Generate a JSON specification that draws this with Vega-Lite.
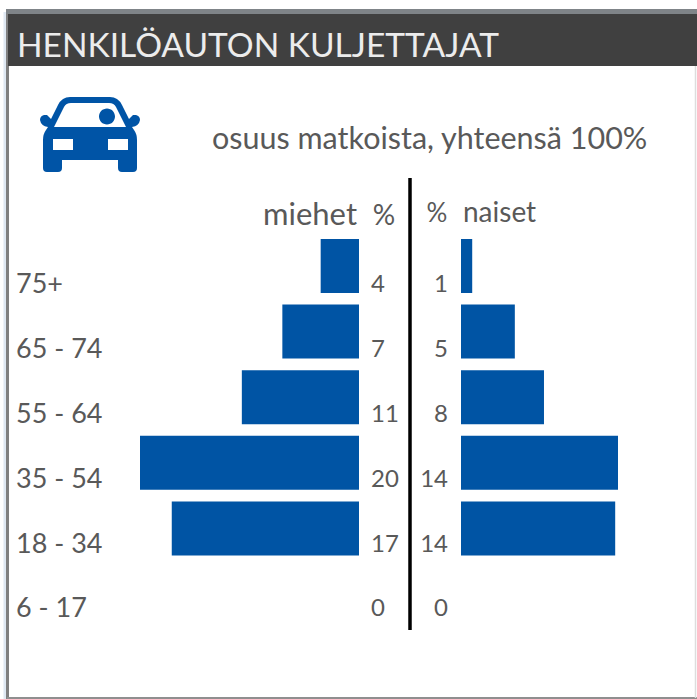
{"$schema":"https://vega.github.io/schema/vega-lite/v6.json","width":697,"height":699,"autosize":{"type":"fit","contains":"padding"},"padding":0,"background":"white","config":{"view":{"stroke":null},"font":"Lato"},
"datasets":{"shares":[
{"age":"75+","sex":"miehet","share":3.5,"label":4},{"age":"65 - 74","sex":"miehet","share":7,"label":7},{"age":"55 - 64","sex":"miehet","share":10.7,"label":11},{"age":"35 - 54","sex":"miehet","share":20,"label":20},{"age":"18 - 34","sex":"miehet","share":17.1,"label":17},{"age":"6 - 17","sex":"miehet","share":0,"label":0},
{"age":"75+","sex":"naiset","share":1,"label":1},{"age":"65 - 74","sex":"naiset","share":4.8,"label":5},{"age":"55 - 64","sex":"naiset","share":7.4,"label":8},{"age":"35 - 54","sex":"naiset","share":14,"label":14},{"age":"18 - 34","sex":"naiset","share":13.75,"label":14},{"age":"6 - 17","sex":"naiset","share":0,"label":0}]},
"data":{"name":"shares"},
"resolve":{"scale":{"x":"independent","y":"independent"}},
"layer":[
{"data":{"values":[{}]},"mark":{"type":"rule","color":"#dfe8f2","strokeWidth":3},"encoding":{"x":{"value":5},"y":{"value":12},"y2":{"value":699}}},
{"data":{"values":[{}]},"mark":{"type":"rule","color":"#808080","strokeWidth":3},"encoding":{"x":{"value":7.5},"y":{"value":10},"y2":{"value":699}}},
{"data":{"values":[{}]},"mark":{"type":"rule","color":"#8f8f8f","strokeWidth":2},"encoding":{"x":{"value":7},"x2":{"value":697},"y":{"value":698}}},
{"data":{"values":[{}]},"mark":{"type":"rule","color":"#dddddd","strokeWidth":1.5},"encoding":{"x":{"value":695.5},"y":{"value":66},"y2":{"value":698}}},
{"data":{"values":[{}]},"mark":{"type":"rect","color":"#7f8488"},"encoding":{"x":{"value":6},"x2":{"value":697},"y":{"value":9},"y2":{"value":14}}},
{"data":{"values":[{}]},"mark":{"type":"rect","color":"#404040"},"encoding":{"x":{"value":8},"x2":{"value":697},"y":{"value":14},"y2":{"value":66}}},
{"data":{"values":[{"t":"HENKILÖAUTON KULJETTAJAT"}]},"mark":{"type":"text","align":"left","baseline":"alphabetic","fontSize":33.5,"color":"#ececec"},"encoding":{"text":{"field":"t"},"x":{"value":17},"y":{"value":57}}},
{"data":{"values":[{}]},"mark":{"type":"point","filled":true,"opacity":1,"fill":"#0054a6","stroke":null,"size":4,"shape":"M -20,-37.5 L 20,-37.5 Q 28,-37.5 32,-29.5 L 39,-15.5 L 43,-19.5 L 46,-19.5 Q 50,-18.5 50,-14.5 Q 49,-8.5 42,-7.5 L 44,-4.5 Q 47,-0.5 47,5.5 L 47,33.5 Q 47,37.5 43,37.5 L 32,37.5 Q 28,37.5 28,33.5 L 28,25.5 L -28,25.5 L -28,33.5 Q -28,37.5 -32,37.5 L -43,37.5 Q -47,37.5 -47,33.5 L -47,5.5 Q -47,-0.5 -44,-4.5 L -42,-7.5 Q -49,-8.5 -50,-14.5 Q -50,-18.5 -46,-19.5 L -43,-19.5 L -39,-15.5 L -32,-29.5 Q -28,-37.5 -20,-37.5 Z M -19,-31.5 Q -24,-31.5 -26,-27.5 L -36,-7.5 L 36,-7.5 L 26,-27.5 Q 24,-31.5 19,-31.5 Z M 9,-18 A 8 8 0 0 1 25,-18 A 8 8 0 0 1 9,-18 Z M -37,4.5 L -37,15.5 L -17,15.5 L -17,4.5 Z M 18,4.5 L 18,15.5 L 38,15.5 L 38,4.5 Z"},"encoding":{"x":{"value":90},"y":{"value":134.5}}},
{"data":{"values":[{"t":"osuus matkoista, yhteensä 100%"}]},"mark":{"type":"text","align":"left","baseline":"alphabetic","fontSize":30.5,"color":"#595959"},"encoding":{"text":{"field":"t"},"x":{"value":212},"y":{"value":149}}},
{"data":{"values":[{"t":"miehet"}]},"mark":{"type":"text","align":"right","baseline":"alphabetic","fontSize":31,"color":"#595959"},"encoding":{"text":{"field":"t"},"x":{"value":357},"y":{"value":225}}},
{"data":{"values":[{"t":"%"}]},"mark":{"type":"text","align":"center","baseline":"alphabetic","fontSize":28,"color":"#595959"},"encoding":{"text":{"field":"t"},"x":{"value":384},"y":{"value":225}}},
{"data":{"values":[{"t":"%"}]},"mark":{"type":"text","align":"center","baseline":"alphabetic","fontSize":26,"color":"#595959"},"encoding":{"text":{"field":"t"},"x":{"value":437},"y":{"value":222}}},
{"data":{"values":[{"t":"naiset"}]},"mark":{"type":"text","align":"left","baseline":"alphabetic","fontSize":28,"color":"#595959"},"encoding":{"text":{"field":"t"},"x":{"value":463},"y":{"value":222}}},
{"data":{"values":[{}]},"mark":{"type":"rule","color":"#000000","strokeWidth":3.5},"encoding":{"x":{"value":410},"y":{"value":178},"y2":{"value":630}}},
{"transform":[{"filter":"datum.sex==='miehet'"}],"mark":{"type":"bar","color":"#0054a4"},"encoding":{"x":{"field":"share","type":"quantitative","axis":null,"scale":{"domain":[0,20],"range":[359,140]}},"y":{"field":"age","type":"nominal","axis":null,"sort":null,"scale":{"domain":["75+","65 - 74","55 - 64","35 - 54","18 - 34","6 - 17"],"range":[233.2,626.8],"paddingInner":0.177,"paddingOuter":0.0885}}}},
{"transform":[{"filter":"datum.sex==='naiset'"}],"mark":{"type":"bar","color":"#0054a4"},"encoding":{"x":{"field":"share","type":"quantitative","axis":null,"scale":{"domain":[0,14],"range":[461,618]}},"y":{"field":"age","type":"nominal","axis":null,"sort":null,"scale":{"domain":["75+","65 - 74","55 - 64","35 - 54","18 - 34","6 - 17"],"range":[233.2,626.8],"paddingInner":0.177,"paddingOuter":0.0885}}}},
{"transform":[{"filter":"datum.sex==='miehet'"}],"mark":{"type":"text","align":"left","baseline":"middle","fontSize":24,"color":"#595959","dx":12},"encoding":{"text":{"field":"label"},"x":{"datum":0,"scale":{"domain":[0,20],"range":[359,140]},"axis":null},"y":{"field":"age","type":"nominal","axis":null,"sort":null,"scale":{"domain":["75+","65 - 74","55 - 64","35 - 54","18 - 34","6 - 17"],"range":[253,641.8]}}}},
{"transform":[{"filter":"datum.sex==='naiset'"}],"mark":{"type":"text","align":"right","baseline":"middle","fontSize":24,"color":"#595959","dx":-13},"encoding":{"text":{"field":"label"},"x":{"datum":0,"scale":{"domain":[0,14],"range":[461,618]},"axis":null},"y":{"field":"age","type":"nominal","axis":null,"sort":null,"scale":{"domain":["75+","65 - 74","55 - 64","35 - 54","18 - 34","6 - 17"],"range":[253,641.8]}}}},
{"transform":[{"filter":"datum.sex==='miehet'"}],"mark":{"type":"text","align":"left","baseline":"middle","fontSize":27,"color":"#595959","dx":-124},"encoding":{"text":{"field":"age"},"x":{"datum":20,"scale":{"domain":[0,20],"range":[359,140]},"axis":null},"y":{"field":"age","type":"nominal","axis":null,"sort":null,"scale":{"domain":["75+","65 - 74","55 - 64","35 - 54","18 - 34","6 - 17"],"range":[253,641.8]}}}}
]}
